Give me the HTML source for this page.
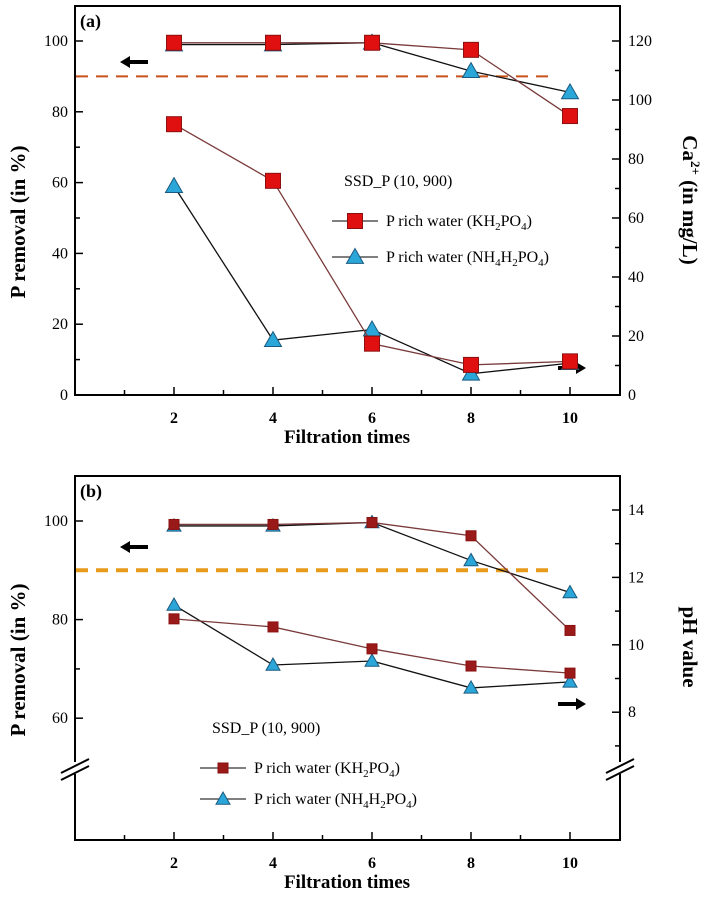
<!DOCTYPE html>
<html><head><meta charset="utf-8"><style>
html,body{margin:0;padding:0;background:#fff;width:710px;height:913px;overflow:hidden}
svg{font-family:"Liberation Serif",serif}
</style></head><body>
<svg id="c" width="710" height="913" viewBox="0 0 710 913"></svg>
<script>
const xCats=[2,4,6,8,10];
const aKhRem=[99.5,99.5,99.5,97.5,78.8];
const aNhRem=[99,99,99.5,91.5,85.5];
const aKhCa=[91.8,72.6,17.4,10.2,11.4];
const aNhCa=[70.8,18.6,22.2,7.2,10.8];
const bKhRem=[99.3,99.3,99.7,97,77.8];
const bNhRem=[99,99,99.7,92,85.5];
const bKhPh=[10.77,10.53,9.88,9.37,9.16];
const bNhPh=[11.18,9.4,9.52,8.72,8.9];
const xTicks=[2,4,6,8,10];
const aLeftTicks=[0,20,40,60,80,100];
const aRightTicks=[0,20,40,60,80,100,120];
const bLeftTicks=[60,80,100];
const bRightTicks=[8,10,12,14];
const threshold=90;

const svg=document.getElementById('c');
const NS='http://www.w3.org/2000/svg';
function mk(t,a,p){const e=document.createElementNS(NS,t);for(const k in a)e.setAttribute(k,a[k]);(p||svg).appendChild(e);return e;}
const X=v=>75+v*49.5;

function panel(o){
  const g=mk('g',{});
  
  
  const L=o.L,R=o.R;
  const fr=mk('rect',{x:75,y:o.top,width:545,height:o.bot-o.top,fill:'none',stroke:'#000','stroke-width':2},g);
  
  for(let v=1;v<=10;v++){const maj=v%2==0;mk('line',{x1:X(v),x2:X(v),y1:o.bot,y2:o.bot-(maj?8:5),stroke:'#000','stroke-width':1.5},g);}
  xTicks.forEach(v=>{const t=mk('text',{x:X(v),y:o.bot+28,'text-anchor':'middle','font-size':16,'font-weight':'bold'},g);t.textContent=v;
    });
  const xt=mk('text',{x:347,y:o.bot+48,'text-anchor':'middle','font-size':19,'font-weight':'bold'},g);xt.textContent='Filtration times';
  
  o.leftMinor.forEach(v=>mk('line',{x1:75,x2:80,y1:L(v),y2:L(v),stroke:'#000','stroke-width':1.5},g));
  o.leftTicks.forEach(v=>{mk('line',{x1:75,x2:83,y1:L(v),y2:L(v),stroke:'#000','stroke-width':1.5},g);
    const t=mk('text',{x:68,y:L(v)+5,'text-anchor':'end','font-size':16},g);t.textContent=v;
    });
  o.rightMinor.forEach(v=>mk('line',{x1:620,x2:615,y1:R(v),y2:R(v),stroke:'#000','stroke-width':1.5},g));
  o.rightTicks.forEach(v=>{mk('line',{x1:620,x2:612,y1:R(v),y2:R(v),stroke:'#000','stroke-width':1.5},g);
    const t=mk('text',{x:628,y:R(v)+5,'font-size':16},g);t.textContent=v;
    });
  const ly=mk('text',{x:0,y:0,transform:`translate(25,${o.ltY}) rotate(-90)`,'text-anchor':'middle','font-size':21,'font-weight':'bold'},g);ly.textContent='P removal (in %)';
  
  const ry=mk('text',{x:0,y:0,transform:`translate(683,${o.rtY}) rotate(90)`,'text-anchor':'middle','font-size':21,'font-weight':'bold'},g);
  ry.innerHTML=o.rtitle;
  
  const pl=mk('text',{x:80,y:o.top+21,'font-size':18,'font-weight':'bold'},g);pl.textContent=o.label;
  
  const th=mk('line',{x1:76,x2:555,y1:L(threshold),y2:L(threshold),stroke:o.dashCol,'stroke-width':o.dashW,'stroke-dasharray':o.dash},g);
  
  function arrow(x1,x2,y,n){const a=mk('g',{},g);
    const d=x2>x1?1:-1;mk('line',{x1:x1,x2:x2-d*8,y1:y,y2:y,stroke:'#000','stroke-width':4},a);
    mk('polygon',{points:`${x2},${y} ${x2-d*10},${y-6} ${x2-d*10},${y+6}`,fill:'#000'},a);}
  arrow(148,120,o.arL,'left-axis-arrow');arrow(558,586,o.arR,'right-axis-arrow');
  function series(vals,sc,kind,n){
    const s=mk('g',{},g);
    const pts=vals.map((v,i)=>[X(xCats[i]),sc(v)]);
    mk('polyline',{points:pts.map(p=>p.join(',')).join(' '),fill:'none',stroke:kind=='sq'?'#7a3a3a':'#111','stroke-width':1.3},s);
    pts.forEach(p=>{let m;
      if(kind=='sq'){const h=o.sq;m=mk('rect',{x:p[0]-h,y:p[1]-h,width:2*h,height:2*h,fill:o.sqFill,stroke:'#8b1010','stroke-width':1},s);}
      else{const h=o.tri;m=mk('polygon',{points:`${p[0]},${p[1]-h} ${p[0]-h},${p[1]+h*0.75} ${p[0]+h},${p[1]+h*0.75}`,fill:'#2aa7d8',stroke:'#1a5a80','stroke-width':1},s);}
      });
  }
  series(o.nh1,L,'tri','nh4-removal-series');
  series(o.kh1,L,'sq','kh2po4-removal-series');
  series(o.nh2,R,'tri','nh4-right-series');
  series(o.kh2,R,'sq','kh2po4-right-series');
  const lg=mk('g',{},g);
  const lt=mk('text',{x:o.lgx+12,y:o.lgy,'font-size':16},lg);lt.textContent='SSD_P (10, 900)';
  [['sq','P rich water (KH<tspan font-size="11" dy="4">2</tspan><tspan dy="-4">PO</tspan><tspan font-size="11" dy="4">4</tspan><tspan dy="-4">)</tspan>'],
   ['tri','P rich water (NH<tspan font-size="11" dy="4">4</tspan><tspan dy="-4">H</tspan><tspan font-size="11" dy="4">2</tspan><tspan dy="-4">PO</tspan><tspan font-size="11" dy="4">4</tspan><tspan dy="-4">)</tspan>']].forEach((e,i)=>{
    const y=o.lgy+35+i*o.lgGap;const eg=mk('g',{},lg);
    
    mk('line',{x1:o.lgx,x2:o.lgx+46,y1:y,y2:y,stroke:'#333','stroke-width':1.3},eg);
    const cx=o.lgx+23;
    if(e[0]=='sq'){const h=o.sq;mk('rect',{x:cx-h,y:y-h,width:2*h,height:2*h,fill:o.sqFill,stroke:'#8b1010'},eg);}
    else{const h=o.tri;mk('polygon',{points:`${cx},${y-h} ${cx-h},${y+h*0.75} ${cx+h},${y+h*0.75}`,fill:'#2aa7d8',stroke:'#1a5a80'},eg);}
    const t=mk('text',{x:o.lgx+54,y:y+5,'font-size':16},eg);t.innerHTML=e[1];
  });
}
panel({name:'panel-a',top:6,bot:395,L:v=>395-v*3.54,R:v=>395-v*2.95,
 leftTicks:aLeftTicks,leftMinor:[10,30,50,70,90],rightTicks:aRightTicks,rightMinor:[10,30,50,70,90,110],
 ltY:222,rtY:200,rtitle:'Ca<tspan font-size="13" dy="-8">2+</tspan><tspan dy="8"> (in mg/L)</tspan>',label:'(a)',
 dashCol:'#c8521a',dashW:2,dash:'12,8',arL:62,arR:368,
 nh1:aNhRem,kh1:aKhRem,nh2:aNhCa,kh2:aKhCa,sq:7.5,tri:8.5,sqFill:'#e01010',lgx:332,lgy:186,lgGap:36});
panel({name:'panel-b',top:476,bot:840,L:v=>521+(100-v)*4.93,R:v=>510+(14-v)*33.7,
 leftTicks:bLeftTicks,leftMinor:[70,90],rightTicks:bRightTicks,rightMinor:[7,9,11,13],
 ltY:660,rtY:647,rtitle:'pH value',label:'(b)',
 dashCol:'#e89a1a',dashW:4,dash:'12,8',arL:547,arR:704,
 nh1:bNhRem,kh1:bKhRem,nh2:bNhPh,kh2:bKhPh,sq:5,tri:7,sqFill:'#9a1a1a',lgx:200,lgy:733,lgGap:31});
[[75,770],[620,770]].forEach(p=>{const b=mk('g',{});
 mk('rect',{x:p[0]-4,y:p[1]-8,width:8,height:12,fill:'#fff'},b);
 mk('line',{x1:p[0]-14,x2:p[0]+14,y1:p[1]+3,y2:p[1]-11,stroke:'#000','stroke-width':2},b);
 mk('line',{x1:p[0]-14,x2:p[0]+14,y1:p[1]+10,y2:p[1]-4,stroke:'#000','stroke-width':2},b);});
</script>
</body></html>
